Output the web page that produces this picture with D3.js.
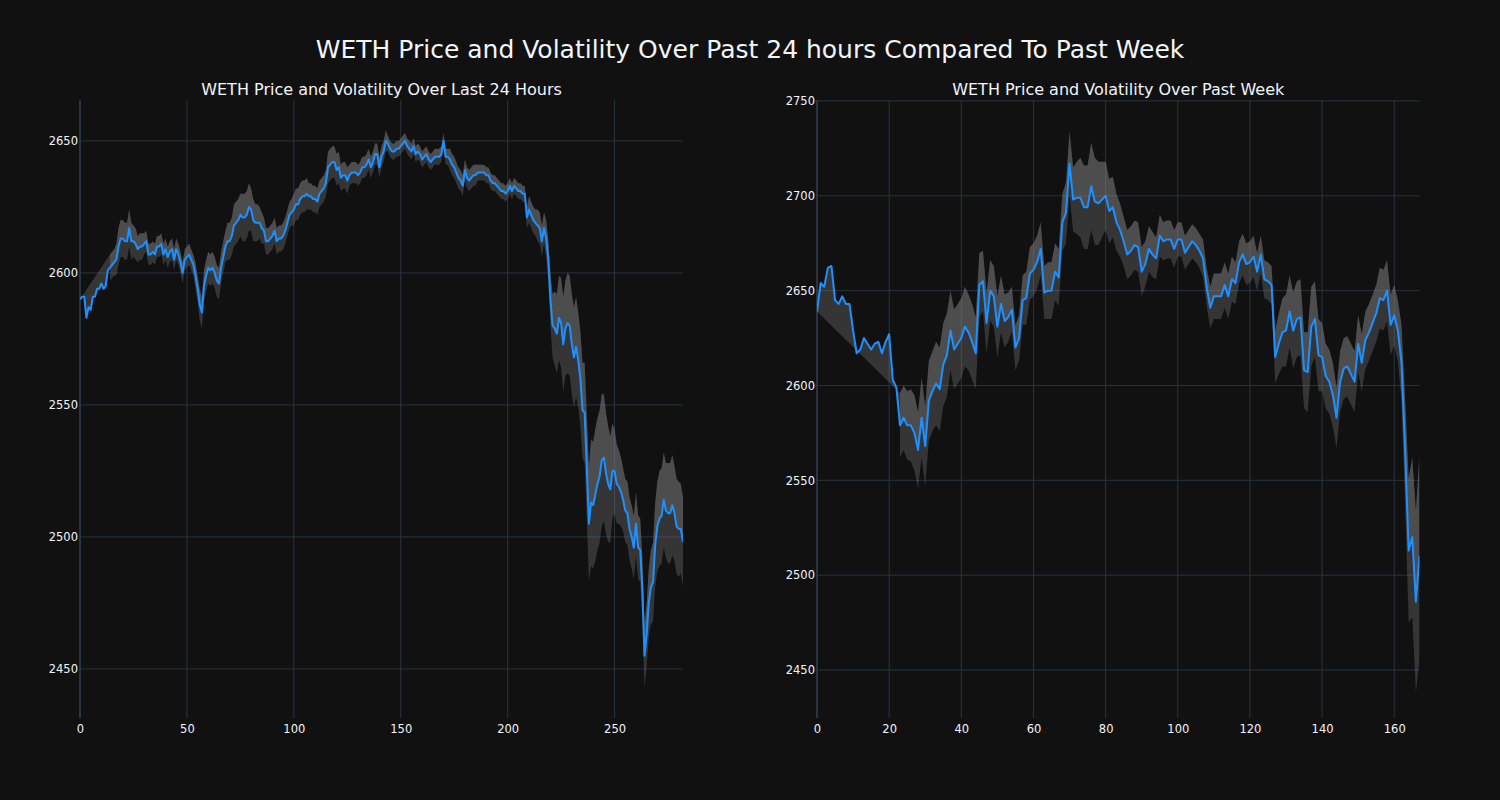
<!DOCTYPE html>
<html><head><meta charset="utf-8">
<script src="https://cdn.jsdelivr.net/npm/d3@7"></script>
<style>
html,body{margin:0;padding:0;background:#111111;}
svg text{font-family:"DejaVu Sans", Verdana, Arial, sans-serif;}
</style></head><body>
<svg id="chart" width="1500" height="800"></svg>
<script>
const mainTitle = "WETH Price and Volatility Over Past 24 hours Compared To Past Week";
const leftTitle = "WETH Price and Volatility Over Last 24 Hours";
const rightTitle = "WETH Price and Volatility Over Past Week";

const leftPrice = [
2590,2591,2591,2583,2587,2586,2591,2591,2594,2594,
2596,2594,2595,2601,2602,2603,2604,2605,2610,2613,
2613,2612,2612,2617,2612,2612,2611,2609,2610,2610,
2611,2612,2607,2607,2608,2607,2610,2610,2611,2607,
2609,2606,2608,2609,2605,2609,2607,2604,2600,2605,
2606,2607,2605,2603,2599,2594,2588,2585,2595,2599,
2602,2601,2602,2600,2597,2596,2602,2606,2610,2612,
2612,2614,2618,2619,2620,2622,2621,2621,2622,2625,
2624,2620,2619,2619,2619,2617,2616,2612,2612,2613,
2614,2616,2612,2613,2613,2614,2616,2619,2622,2623,
2624,2626,2626,2628,2629,2629,2630,2629,2629,2628,
2628,2627,2630,2631,2632,2634,2640,2641,2642,2642,
2639,2640,2636,2637,2637,2635,2637,2638,2638,2638,
2637,2638,2640,2640,2641,2643,2640,2642,2645,2645,
2640,2644,2646,2650,2649,2647,2646,2646,2647,2647,
2648,2649,2650,2648,2647,2646,2648,2645,2646,2645,
2643,2644,2645,2643,2642,2643,2644,2644,2644,2645,
2650,2644,2644,2643,2641,2640,2638,2636,2635,2633,
2639,2636,2635,2636,2637,2637,2638,2638,2638,2638,
2637,2637,2635,2634,2634,2633,2632,2631,2631,2630,
2631,2633,2631,2633,2632,2631,2631,2630,2630,2621,
2624,2622,2620,2619,2618,2617,2612,2617,2613,2605,
2590,2580,2579,2577,2583,2581,2573,2579,2581,2580,
2573,2568,2572,2567,2560,2548,2547,2527,2505,2513,
2512,2516,2520,2523,2529,2530,2524,2520,2518,2525,
2525,2520,2519,2517,2514,2510,2509,2503,2500,2496,
2505,2496,2495,2480,2455,2463,2475,2481,2483,2497,
2504,2507,2508,2514,2510,2509,2509,2512,2509,2504,
2503,2503,2498
];
const leftVol = [
null,null,null,null,null,null,null,null,null,null,
null,null,null,null,5,5,5,6,7,7,
7,7,7,7,7,6,6,5,5,5,
4,4,4,4,4,4,4,4,4,4,
4,4,4,4,4,4,4,4,4,4,
4,4,4,4,5,5,6,6,6,6,
6,6,6,6,6,6,6,6,6,7,
7,7,8,8,8,8,9,9,9,9,
8,8,7,7,6,6,5,5,5,5,
5,5,5,5,5,5,5,5,5,5,
6,6,6,6,6,6,6,5,5,5,
5,5,5,5,5,5,6,6,6,6,
6,6,5,5,5,5,4,4,4,4,
4,4,4,4,4,4,4,4,4,4,
4,4,4,4,3,3,3,3,3,3,
3,3,3,3,3,3,3,3,3,3,
3,3,3,3,3,3,3,3,3,3,
3,3,3,4,4,4,4,4,4,4,
4,4,4,4,4,4,3,3,3,3,
3,3,3,3,3,3,3,3,3,3,
3,3,3,3,3,3,3,3,3,4,
5,5,5,5,6,6,6,6,7,8,
10,12,14,15,16,17,18,18,19,19,
19,19,19,18,18,18,19,20,22,24,
24,25,25,25,25,24,23,22,20,18,
16,15,14,13,12,12,12,12,12,12,
12,12,12,12,12,12,13,14,15,16,
17,18,18,18,18,19,19,19,18,18,
18,17,17
];

const rightPrice = [
2639,2654,2652,2662,2663,2645,2643,2647,2643,2643,
2629,2617,2619,2625,2622,2619,2622,2623,2617,2623,
2627,2603,2599,2579,2583,2579,2579,2575,2566,2583,
2568,2592,2597,2601,2598,2611,2616,2629,2619,2622,
2625,2631,2628,2623,2617,2653,2655,2633,2650,2647,
2631,2643,2634,2636,2640,2620,2625,2645,2646,2659,
2661,2665,2672,2649,2650,2650,2660,2657,2686,2691,
2717,2698,2699,2699,2694,2694,2705,2697,2696,2698,
2700,2692,2694,2686,2682,2676,2669,2671,2674,2673,
2660,2664,2672,2669,2667,2679,2676,2677,2677,2672,
2677,2677,2670,2673,2676,2674,2671,2667,2652,2641,
2647,2647,2647,2653,2647,2656,2654,2665,2669,2664,
2665,2668,2660,2669,2656,2655,2653,2615,2622,2628,
2629,2639,2629,2635,2636,2608,2607,2631,2635,2616,
2615,2605,2602,2595,2583,2602,2609,2610,2606,2602,
2622,2612,2624,2628,2633,2638,2646,2645,2650,2632,
2637,2629,2612,2566,2513,2520,2486,2510
];
const rightVol = [
null,null,null,null,null,null,null,null,null,null,
null,null,null,null,null,null,null,null,null,null,
null,null,null,17,17,18,19,20,20,21,
21,21,21,22,22,22,22,21,21,21,
21,21,20,20,19,17,16,16,16,16,
16,15,14,13,12,12,12,13,14,14,
14,14,14,14,15,15,15,15,15,16,
17,17,19,21,22,22,23,23,22,20,
18,17,16,15,14,13,13,13,13,13,
13,12,12,12,11,11,10,10,10,10,
9,9,9,9,9,9,9,10,10,11,
12,12,12,12,12,12,11,11,11,11,
11,11,10,10,10,10,10,14,16,18,
19,19,20,20,20,20,21,21,20,19,
18,17,17,17,16,16,16,16,16,16,
15,15,15,15,15,15,16,16,16,16,
16,16,20,28,38,42,48,54
];

const leftXTicks = [0,50,100,150,200,250];
const leftYTicks = [2450,2500,2550,2600,2650];
const rightXTicks = [0,20,40,60,80,100,120,140,160];
const rightYTicks = [2450,2500,2550,2600,2650,2700,2750];

const BG = "#111111", GRID = "#283442", TXT = "#f2f5fa", LINE = "#1e90ff";
const FONT = '"DejaVu Sans", Verdana, Arial, sans-serif';

const svg = d3.select("#chart");
svg.append("rect").attr("width",1500).attr("height",800).attr("fill",BG);

svg.append("text").attr("x",750).attr("y",58).attr("text-anchor","middle")
  .attr("font-size",25).attr("fill",TXT).attr("font-family",FONT).text(mainTitle);

function panel(cfg, idx){
  const {left,right,top,bottom,price,vol,yDomain,xTicks,yTicks,title} = cfg;
  const x = d3.scaleLinear().domain([0, price.length-1]).range([left,right]);
  const y = d3.scaleLinear().domain(yDomain).range([bottom,top]);
  const g = svg.append("g");

  g.append("clipPath").attr("id","clip"+idx).append("rect")
    .attr("x",left).attr("y",top).attr("width",right-left).attr("height",bottom-top);

  g.append("g").selectAll("line").data(yTicks).join("line")
    .attr("x1",left).attr("x2",right).attr("y1",d=>y(d)).attr("y2",d=>y(d))
    .attr("stroke",GRID).attr("stroke-width",1);
  g.append("g").selectAll("line").data(xTicks.filter(d=>d!==0)).join("line")
    .attr("x1",d=>x(d)).attr("x2",d=>x(d)).attr("y1",top).attr("y2",bottom)
    .attr("stroke",GRID).attr("stroke-width",1);
  g.append("line").attr("x1",x(0)).attr("x2",x(0)).attr("y1",top).attr("y2",bottom)
    .attr("stroke",GRID).attr("stroke-width",2);

  const data = price.map((p,i)=>({i, p, v: vol[i]}));
  const valid = data.filter(d=>d.v!=null);
  const plot = g.append("g").attr("clip-path","url(#clip"+idx+")");

  const pts = data.map(d=>[x(d.i), y(d.p)])
    .concat(valid.slice().reverse().map(d=>[x(d.i), y(d.p + d.v)]));
  plot.append("path").attr("d", d3.line()(pts) + "Z")
    .attr("fill","rgb(128,128,128)").attr("fill-opacity",0.33).attr("stroke","none");

  const area = d3.area().x(d=>x(d.i)).y0(d=>y(d.p - d.v)).y1(d=>y(d.p + d.v));
  plot.append("path").attr("d", area(valid))
    .attr("fill","rgb(128,128,128)").attr("fill-opacity",0.33).attr("stroke","none");

  const line = d3.line().x(d=>x(d.i)).y(d=>y(d.p));
  plot.append("path").attr("d", line(data)).attr("fill","none")
    .attr("stroke",LINE).attr("stroke-width",2).attr("stroke-linejoin","round");

  const ax = g.append("g").attr("transform",`translate(0,${bottom})`)
    .call(d3.axisBottom(x).tickValues(xTicks).tickSize(0).tickPadding(6.5).tickFormat(d3.format("d")));
  const ay = g.append("g").attr("transform",`translate(${left},0)`)
    .call(d3.axisLeft(y).tickValues(yTicks).tickSize(0).tickPadding(2).tickFormat(d3.format("d")));
  [ax,ay].forEach(a=>{
    a.select(".domain").remove();
    a.selectAll("text").attr("fill",TXT).attr("font-size",11.5).attr("font-family",FONT);
  });

  g.append("text").attr("x",(left+right)/2).attr("y",95).attr("text-anchor","middle")
    .attr("font-size",16).attr("fill",TXT).attr("font-family",FONT).text(title);
}

panel({left:80,right:683,top:100,bottom:718,price:leftPrice,vol:leftVol,
  yDomain:[2431.4,2665.5],xTicks:leftXTicks,yTicks:leftYTicks,title:leftTitle},0);
panel({left:817,right:1419.5,top:100,bottom:718,price:rightPrice,vol:rightVol,
  yDomain:[2424.7,2750.5],xTicks:rightXTicks,yTicks:rightYTicks,title:rightTitle},1);
</script>
</body></html>
